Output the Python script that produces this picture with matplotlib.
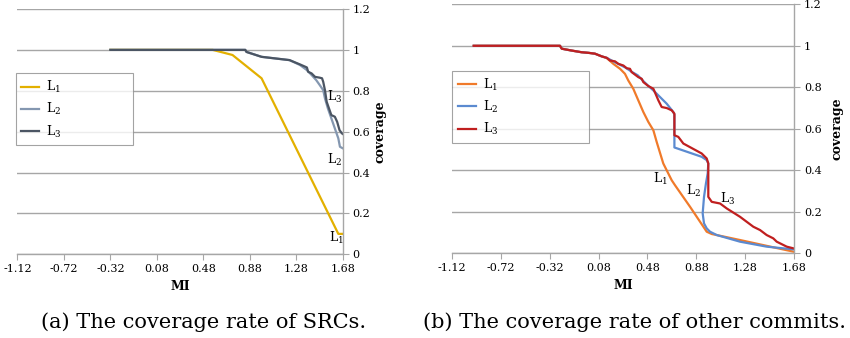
import matplotlib
matplotlib.use("Agg")
import matplotlib.pyplot as plt
from matplotlib.ticker import FixedLocator, FuncFormatter

plt.rcParams['font.family'] = ['DejaVu Serif']
plt.rcParams['mathtext.fontset'] = 'dejavuserif'

# ---------------- data ----------------
x_ticks = [-1.12, -0.72, -0.32, 0.08, 0.48, 0.88, 1.28, 1.68]
y_ticks = [0, 0.2, 0.4, 0.6, 0.8, 1.0, 1.2]
series_names = [r'$\mathrm{L}_1$', r'$\mathrm{L}_2$', r'$\mathrm{L}_3$']

# (a) SRCs
a_L1_mi = [-0.32, 0.56, 0.73, 0.98, 1.64, 1.68]
a_L1_cov = [1.0, 1.0, 0.975, 0.861, 0.10, 0.10]

a_L2_mi = [-0.32, 0.84, 0.85, 0.98, 1.22, 1.31, 1.37, 1.41, 1.45, 1.48, 1.51, 1.525,
           1.55, 1.58, 1.61, 1.64, 1.654, 1.68]
a_L2_cov = [1.0, 1.0, 0.99, 0.966, 0.950, 0.926, 0.901, 0.877, 0.852, 0.828, 0.803, 0.763,
            0.714, 0.665, 0.616, 0.567, 0.526, 0.518]

a_L3_mi = [-0.32, 0.84, 0.85, 0.98, 1.22, 1.31, 1.37, 1.38, 1.41, 1.44, 1.48, 1.50, 1.51,
           1.525, 1.54, 1.57, 1.58, 1.61, 1.63, 1.65, 1.67, 1.68]
a_L3_cov = [1.0, 1.0, 0.99, 0.966, 0.950, 0.929, 0.914, 0.893, 0.885, 0.868, 0.864, 0.861, 0.844,
            0.803, 0.746, 0.697, 0.681, 0.673, 0.648, 0.608, 0.592, 0.588]

# (b) other commits
b_L1_mi = [-0.94, -0.235, -0.22, -0.14, -0.06, 0.0, 0.05, 0.106, 0.147, 0.201, 0.256, 0.296,
           0.323, 0.364, 0.405, 0.446, 0.487, 0.528, 0.555, 0.609, 0.678, 0.705, 0.828, 0.964,
           1.005, 1.236, 1.508, 1.672]
b_L1_cov = [1.0, 1.0, 0.986, 0.977, 0.969, 0.966, 0.962, 0.949, 0.941, 0.913, 0.889, 0.865,
            0.833, 0.793, 0.737, 0.681, 0.633, 0.593, 0.537, 0.433, 0.352, 0.328, 0.224, 0.104,
            0.093, 0.064, 0.029, 0.008]

b_L2_mi = [-0.94, -0.235, -0.22, -0.14, -0.06, 0.0, 0.05, 0.106, 0.147, 0.20, 0.25, 0.30,
           0.35, 0.40, 0.446, 0.49, 0.528, 0.637, 0.691, 0.70, 0.70, 0.923, 0.964, 0.977,
           0.972, 0.958, 0.942, 0.931, 0.942, 0.964, 0.991, 1.046, 1.236, 1.454, 1.672]
b_L2_cov = [1.0, 1.0, 0.986, 0.977, 0.969, 0.966, 0.962, 0.949, 0.942, 0.925, 0.91, 0.895,
            0.875, 0.858, 0.83, 0.805, 0.785, 0.721, 0.681, 0.668, 0.510, 0.465, 0.449, 0.433,
            0.385, 0.337, 0.272, 0.192, 0.144, 0.120, 0.104, 0.088, 0.056, 0.032, 0.019]

b_L3_mi = [-0.94, -0.235, -0.221, -0.139, -0.058, -0.003, 0.051, 0.106, 0.147, 0.174, 0.215,
           0.242, 0.283, 0.310, 0.337, 0.351, 0.378, 0.405, 0.433, 0.446, 0.487, 0.528, 0.542,
           0.569, 0.596, 0.637, 0.678, 0.70, 0.70, 0.732, 0.773, 0.923, 0.964, 0.977, 0.977,
           1.005, 1.073, 1.128, 1.236, 1.345, 1.400, 1.454, 1.508, 1.536, 1.618, 1.672]
b_L3_cov = [1.0, 1.0, 0.986, 0.977, 0.969, 0.966, 0.962, 0.949, 0.942, 0.929, 0.925,
            0.913, 0.905, 0.892, 0.889, 0.873, 0.861, 0.849, 0.841, 0.825, 0.806, 0.793, 0.774,
            0.737, 0.705, 0.700, 0.689, 0.673, 0.569, 0.561, 0.529, 0.481, 0.457, 0.433, 0.272,
            0.248, 0.240, 0.216, 0.176, 0.128, 0.112, 0.088, 0.072, 0.056, 0.032, 0.024]

# inline label positions (MI, coverage)
a_label_pos = [(1.62, 0.078), (1.61, 0.461), (1.61, 0.771)]
b_label_pos = [(0.583, 0.36), (0.855, 0.30), (1.133, 0.26)]

captions = ['(a) The coverage rate of SRCs.', '(b) The coverage rate of other commits.']

colors_a = ['#E3B000', '#8497B0', '#4B5563']
colors_b = ['#F07A2A', '#5B8AD0', '#C01F1F']

# ---------------- plotting ----------------
fig = plt.figure(figsize=(8.5, 3.38), dpi=100)
ax_a = fig.add_axes([0.0204, 0.2476, 0.3831, 0.7258])
ax_b = fig.add_axes([0.5314, 0.2506, 0.4031, 0.7367])

grid_c = '#A6A6A6'


def style(ax, ypad):
    ax.set_xlim(x_ticks[0], x_ticks[-1])
    ax.set_ylim(0, 1.2)
    ax.xaxis.set_major_locator(FixedLocator(x_ticks))
    ax.yaxis.set_major_locator(FixedLocator(y_ticks))
    ax.xaxis.set_major_formatter(FuncFormatter(lambda v, p: '%.2f' % v))
    ax.yaxis.set_major_formatter(FuncFormatter(lambda v, p: ('%g' % round(v, 1))))
    ax.yaxis.tick_right()
    ax.yaxis.set_label_position('right')
    for s in ['top', 'left']:
        ax.spines[s].set_visible(False)
    for s in ['right', 'bottom']:
        ax.spines[s].set_color(grid_c)
        ax.spines[s].set_linewidth(1.0)
    ax.grid(axis='y', color=grid_c, linewidth=1.0)
    ax.set_axisbelow(True)
    ax.tick_params(axis='both', direction='out', length=4, color=grid_c,
                   labelsize=8, pad=3)
    ax.set_xlabel('MI', fontweight='bold', fontsize=9, labelpad=4)
    ax.set_ylabel('coverage', fontweight='bold', fontsize=9, labelpad=ypad)


def draw(ax, xs, ys, cols, label_pos, leg_box):
    for x, y, c, n in zip(xs, ys, cols, series_names):
        ax.plot(x, y, color=c, linewidth=1.6, label=n, solid_joinstyle='round')
    for (lx, ly), n in zip(label_pos, series_names):
        ax.text(lx, ly, n, fontsize=9, ha='center', va='center')
    leg = ax.legend(loc='upper left', bbox_to_anchor=leg_box, mode='expand',
                    frameon=True, fancybox=False, fontsize=9, handlelength=1.4,
                    labelspacing=0.5, borderpad=0.45, handletextpad=0.6,
                    borderaxespad=0)
    leg.get_frame().set_edgecolor('#8C8C8C')
    leg.get_frame().set_linewidth(0.8)


style(ax_a, 2)
style(ax_b, 6)

draw(ax_a, [a_L1_mi, a_L2_mi, a_L3_mi], [a_L1_cov, a_L2_cov, a_L3_cov], colors_a,
     a_label_pos, (-0.005, 0.738, 0.361, 0.0))
draw(ax_b, [b_L1_mi, b_L2_mi, b_L3_mi], [b_L1_cov, b_L2_cov, b_L3_cov], colors_b,
     b_label_pos, (0.002, 0.733, 0.400, 0.0))

fig.text(0.24, 0.048, captions[0], ha='center', va='center', fontsize=15)
fig.text(0.747, 0.048, captions[1], ha='center', va='center', fontsize=15)

fig.savefig('out.png', dpi=100)
